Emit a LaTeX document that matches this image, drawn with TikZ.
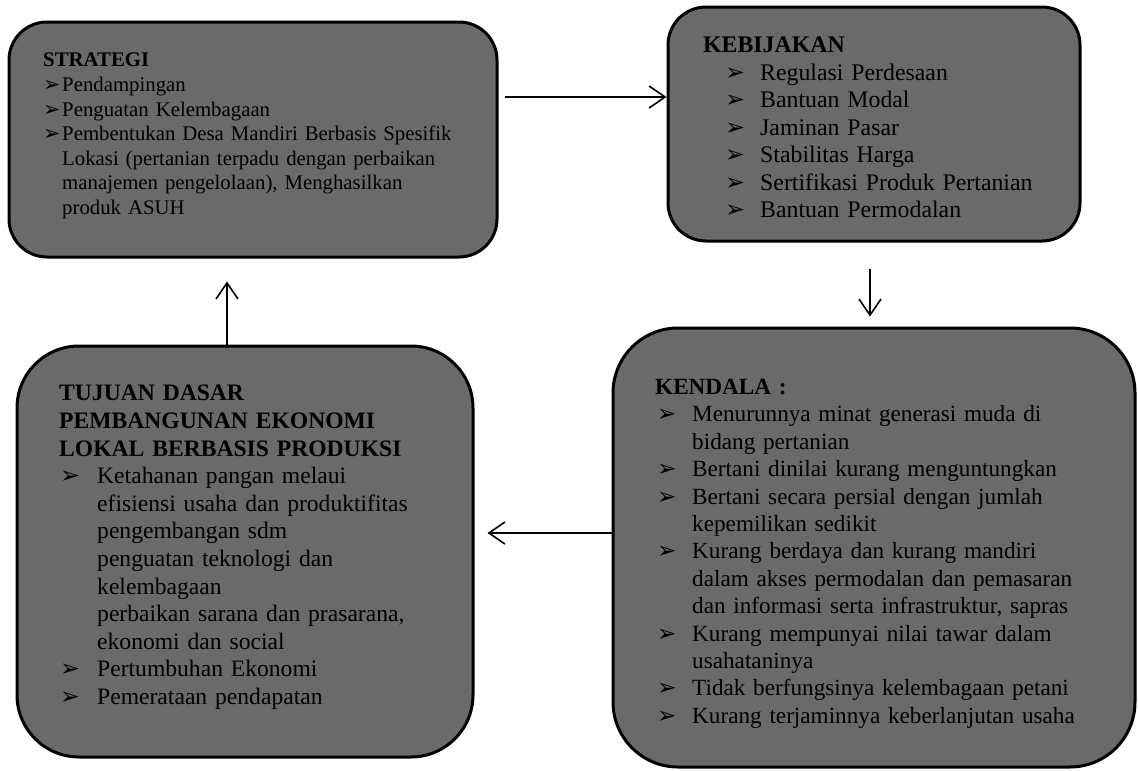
\documentclass[tikz,border=0pt]{standalone}
\usepackage{fontspec}
\setmainfont{Liberation Serif}
\newfontfamily\symfont{DejaVu Sans}
\usetikzlibrary{arrows.meta}

\definecolor{boxgray}{RGB}{106,106,106}

% bullet, list item (#1 bullet offset, #2 text offset, #3 text) and continuation line
\newcommand{\bul}{{\symfont ➢}}
\newcommand{\itm}[3]{\par\noindent\hspace*{#1pt}\makebox[#2pt][l]{\bul}#3}
\newcommand{\cnt}[2]{\par\noindent\hspace*{#1pt}#2}

\tikzset{
    box/.style={draw=black, line width=3pt, fill=boxgray, inner sep=0pt},
    txt/.style={anchor=north west, inner sep=0pt, align=left},
    arr/.style={line width=1.6pt, -{Straight Barb[length=16pt,width=22pt]}}
}

\begin{document}
\begin{tikzpicture}[x=1pt, y=-1pt]

    \useasboundingbox (0, 0) rectangle (1138, 771);

    % The four boxes
    \node[box, rounded corners=38pt, minimum width=488pt, minimum height=235pt] (strategi) at (253, 139.5) {};
    \node[box, rounded corners=38pt, minimum width=412pt, minimum height=234pt] (kebijakan) at (874, 124) {};
    \node[box, rounded corners=62pt, minimum width=456pt, minimum height=411pt] (tujuan) at (245, 551.5) {};
    \node[box, rounded corners=65pt, minimum width=522pt, minimum height=439pt] (kendala) at (874, 547.5) {};

    % Texts
    \node[txt, text width=440pt, font=\fontsize{20.8}{24.6}\selectfont] (strategi-txt) at (43, 53) {%
        \textbf{STRATEGI}
        \itm{0}{19}{Pendampingan}
        \itm{0}{19}{Penguatan Kelembagaan}
        \itm{0}{19}{Pembentukan Desa Mandiri Berbasis Spesifik}
        \cnt{19}{Lokasi (pertanian terpadu dengan perbaikan}
        \cnt{19}{manajemen pengelolaan), Menghasilkan}
        \cnt{19}{produk ASUH}};

    \node[txt, text width=370pt, font=\fontsize{23.8}{27.5}\selectfont] (kebijakan-txt) at (703, 37) {%
        \textbf{KEBIJAKAN}
        \itm{22}{35}{Regulasi Perdesaan}
        \itm{22}{35}{Bantuan Modal}
        \itm{22}{35}{Jaminan Pasar}
        \itm{22}{35}{Stabilitas Harga}
        \itm{22}{35}{Sertifikasi Produk Pertanian}
        \itm{22}{35}{Bantuan Permodalan}};

    \node[txt, text width=410pt, font=\fontsize{23.6}{27.6}\selectfont] (tujuan-txt) at (59, 385) {%
        \textbf{TUJUAN DASAR}
        \cnt{0}{\textbf{PEMBANGUNAN EKONOMI}}
        \cnt{0}{\textbf{LOKAL BERBASIS PRODUKSI}}
        \itm{1}{37}{Ketahanan pangan melaui}
        \cnt{38}{efisiensi usaha dan produktifitas}
        \cnt{38}{pengembangan sdm}
        \cnt{38}{penguatan teknologi dan}
        \cnt{38}{kelembagaan}
        \cnt{38}{perbaikan sarana dan prasarana,}
        \cnt{38}{ekonomi dan social}
        \itm{1}{37}{Pertumbuhan Ekonomi}
        \itm{1}{37}{Pemerataan pendapatan}};

    \node[txt, text width=470pt, font=\fontsize{23.2}{27.4}\selectfont] (kendala-txt) at (655, 379) {%
        \textbf{KENDALA :}
        \itm{2}{35}{Menurunnya minat generasi muda di}
        \cnt{37}{bidang pertanian}
        \itm{2}{35}{Bertani dinilai kurang menguntungkan}
        \itm{2}{35}{Bertani secara persial dengan jumlah}
        \cnt{37}{kepemilikan sedikit}
        \itm{2}{35}{Kurang berdaya dan kurang mandiri}
        \cnt{37}{dalam akses permodalan dan pemasaran}
        \cnt{37}{dan informasi serta infrastruktur, sapras}
        \itm{2}{35}{Kurang mempunyai nilai tawar dalam}
        \cnt{37}{usahataninya}
        \itm{2}{35}{Tidak berfungsinya kelembagaan petani}
        \itm{2}{35}{Kurang terjaminnya keberlanjutan usaha}};

    % Arrows between the boxes
    \draw[arr, shorten <=6pt] ([yshift=42.5pt]strategi.east) -- ([yshift=42.5pt]strategi.east -| kebijakan.west);
    \draw[arr, shorten <=26pt, shorten >=10pt] ([xshift=-4pt]kebijakan.south) -- ([xshift=-4pt]kebijakan.south |- kendala.north);
    \draw[arr, shorten >=13pt] ([yshift=14.5pt]kendala.west) -- ([yshift=14.5pt]kendala.west -| tujuan.east);
    \draw[arr, shorten >=23pt] ([xshift=-18pt]tujuan.north) -- ([xshift=-18pt]tujuan.north |- strategi.south);

\end{tikzpicture}
\end{document}
